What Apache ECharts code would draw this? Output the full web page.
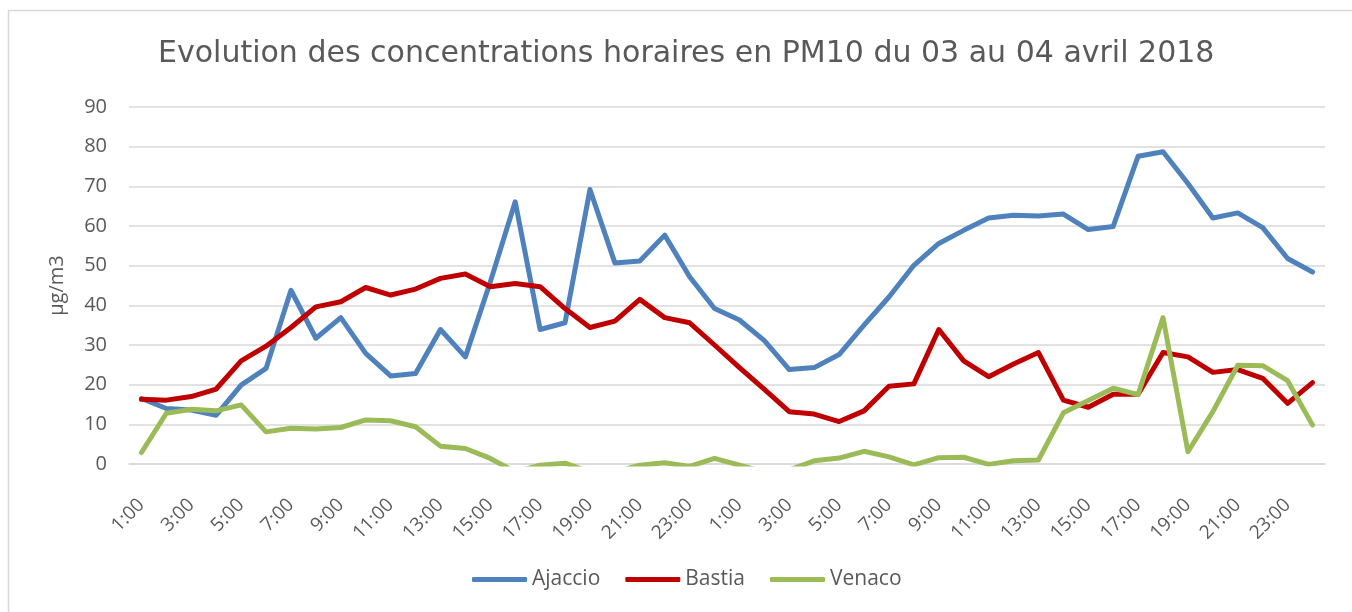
<!DOCTYPE html>
<html>
<head>
<meta charset="utf-8">
<script src="https://cdn.jsdelivr.net/npm/echarts@6/dist/echarts.min.js"></script>
<style>
html,body{margin:0;padding:0;background:#fff;}
#chart{width:1352px;height:612px;}
</style>
</head>
<body>
<div id="chart"></div>
<script>
var hours = ['1:00','2:00','3:00','4:00','5:00','6:00','7:00','8:00','9:00','10:00','11:00','12:00',
             '13:00','14:00','15:00','16:00','17:00','18:00','19:00','20:00','21:00','22:00','23:00','24:00'];
var categories = hours.concat(hours);

var ajaccio = [16.5,14.0,13.6,12.3,19.9,24.1,43.8,31.7,36.9,27.9,22.2,22.8,
               33.9,27.0,45.9,66.1,33.9,35.6,69.2,50.7,51.2,57.7,47.2,39.2,
               36.3,31.1,23.8,24.3,27.6,35.0,42.1,50.1,55.6,58.9,62.0,62.7,
               62.5,63.0,59.1,59.9,77.6,78.7,70.7,62.0,63.3,59.6,51.8,48.4];
var bastia =  [16.3,16.1,17.0,18.9,26.0,29.7,34.4,39.6,40.9,44.5,42.6,44.1,
               46.8,47.9,44.7,45.5,44.7,39.2,34.4,36.0,41.5,36.9,35.6,30.0,
               24.3,18.8,13.2,12.6,10.7,13.4,19.6,20.2,33.9,26.0,22.0,25.2,
               28.1,16.1,14.3,17.6,17.6,28.1,27.0,23.1,23.8,21.6,15.3,20.5];
var venaco =  [2.9,12.8,13.8,13.4,14.9,8.1,9.0,8.8,9.2,11.1,10.9,9.4,
               4.5,3.9,1.4,-2.0,-0.3,0.2,-2.0,-2.0,-0.3,0.3,-0.6,1.4,
               -0.3,-2.0,-1.5,0.8,1.5,3.2,1.8,-0.2,1.6,1.7,-0.1,0.8,
               1.0,12.9,16.0,19.1,17.5,36.9,3.1,13.2,24.9,24.8,21.0,9.8];
var seriesNames = ['Ajaccio','Bastia','Venaco'];
var yTicks = [0,10,20,30,40,50,60,70,80,90];

var FONT = 'Open Sans';
var TXT = '#595959';
var chart = echarts.init(document.getElementById('chart'));

function lineSeries(name, data, color){
  return {
    name: name, type: 'line', data: data,
    symbol: 'none', smooth: false, clip: true,
    lineStyle: {color: color, width: 5, cap: 'round', join: 'round'},
    itemStyle: {color: color}
  };
}

chart.setOption({
  backgroundColor: '#fff',
  animation: false,
  graphic: [{
    type: 'rect', silent: true, z: -1,
    shape: {x: 8.5, y: 10.5, width: 1400, height: 700},
    style: {fill: 'none', stroke: '#d9d9d9', lineWidth: 1.5}
  }],
  title: {
    text: 'Evolution des concentrations horaires en PM10 du 03 au 04 avril 2018',
    left: 153, top: 34,
    textStyle: {fontFamily: 'DejaVu Sans', fontSize: 30, fontWeight: 'normal', color: TXT}
  },
  legend: {
    data: seriesNames.map(function(n){return {name: n, icon: 'roundRect'};}),
    bottom: 17, left: 467,
    itemWidth: 55, itemHeight: 5, itemGap: 25,
    textStyle: {fontFamily: FONT, fontSize: 21, color: TXT}
  },
  grid: {left: 129, right: 27, top: 107, bottom: 148, containLabel: false},
  xAxis: {
    type: 'category', data: categories, boundaryGap: true,
    axisLine: {show: true, lineStyle: {color: '#d9d9d9', width: 1.5}},
    axisTick: {show: false},
    axisLabel: {interval: 1, rotate: 45, margin: 38, fontFamily: FONT, fontSize: 19, color: TXT}
  },
  yAxis: {
    type: 'value', min: 0, max: 90, interval: 10,
    name: 'µg/m3', nameLocation: 'middle', nameRotate: 90, nameGap: 62,
    nameTextStyle: {fontFamily: FONT, fontSize: 20, color: TXT},
    axisLine: {show: false}, axisTick: {show: false},
    axisLabel: {margin: 22, fontFamily: FONT, fontSize: 20, color: TXT,
      formatter: function(v){ return yTicks.indexOf(v) >= 0 ? String(v) : ''; }},
    splitLine: {lineStyle: {color: '#d9d9d9', width: 1.5}}
  },
  series: [
    lineSeries(seriesNames[0], ajaccio, '#4f81bd'),
    lineSeries(seriesNames[1], bastia, '#c00000'),
    lineSeries(seriesNames[2], venaco, '#9bbb59')
  ]
});
</script>
</body>
</html>
